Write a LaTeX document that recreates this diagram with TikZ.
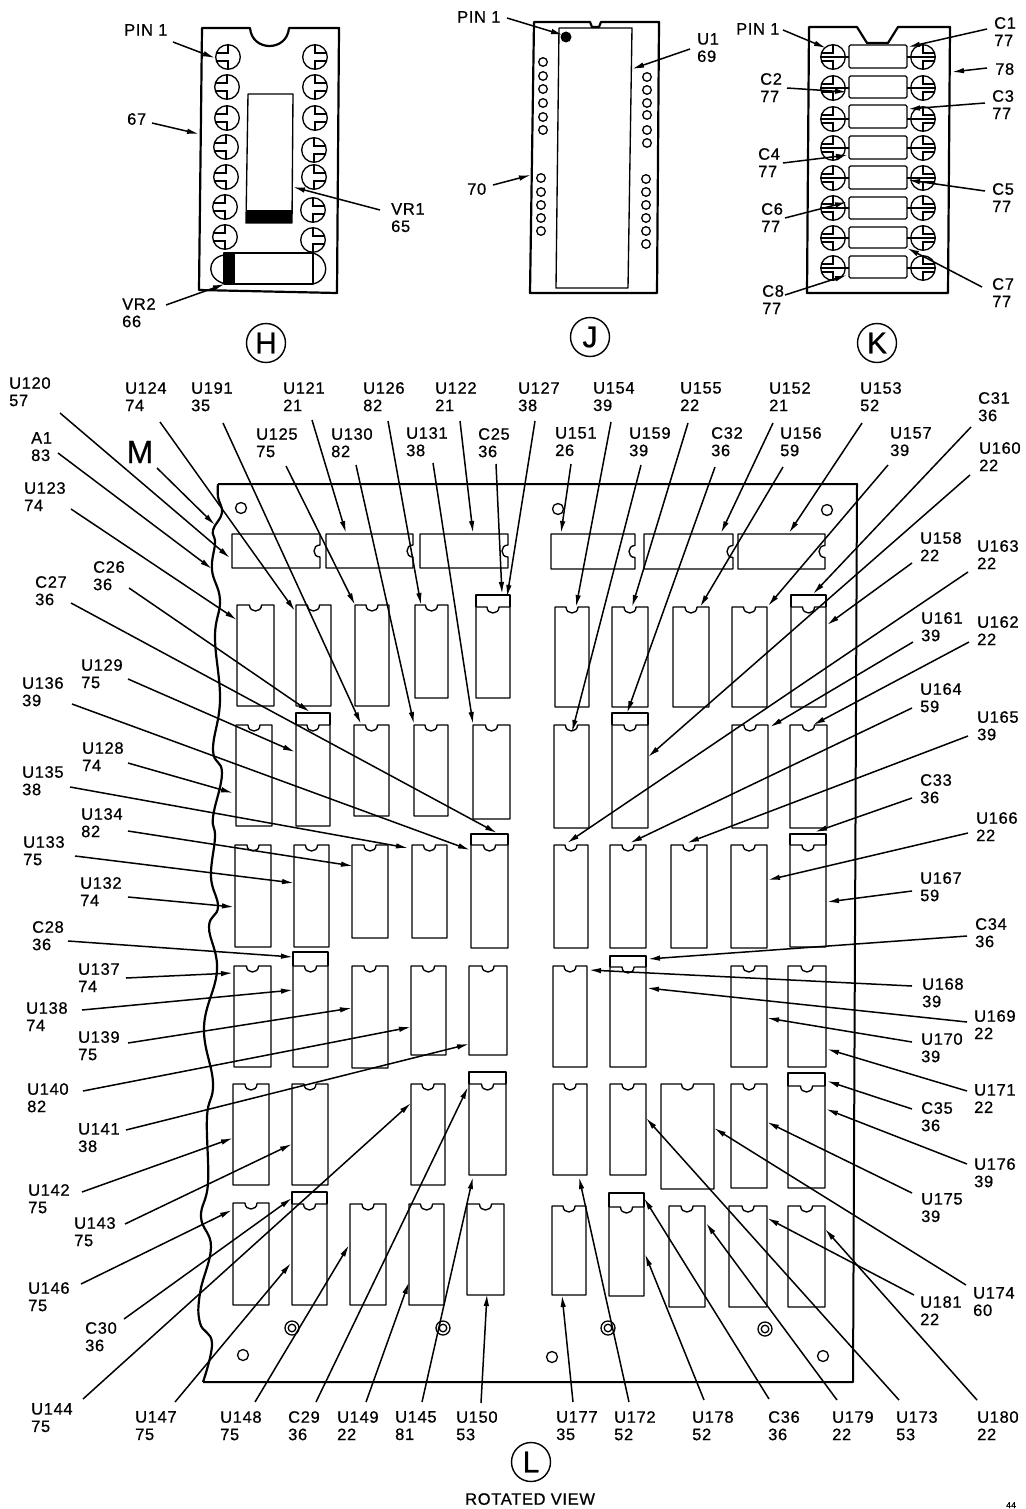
\documentclass[tikz,border=0pt]{standalone}
\usepackage{fontspec}
\setmainfont[LetterSpace=4,FakeBold=0.7]{Liberation Sans}
\usetikzlibrary{arrows.meta}
\tikzset{
  lab/.style={anchor=north west,inner sep=0pt,align=left,font=\fontsize{16.5}{17.4}\selectfont},
  lead/.style={line width=1.5pt,-{Latex[length=12pt,width=5.5pt]},shorten >=0pt},
  chipline/.style={line width=1.35pt,line join=round},
  outline/.style={line width=2.2pt,line join=round},
  circ/.style={draw,circle,line width=1.4pt,minimum size=39pt,inner sep=0pt,font=\fontsize{30}{30}\selectfont},
  hole/.style={line width=1.3pt},
}
\newcommand\dip[4]{\pgfmathsetmacro\xm{(#1+#3)/2}%
  \draw[chipline] (#1,#2) -- (\xm-6,#2) .. controls (\xm-6,#2+8) and (\xm+6,#2+8) .. (\xm+6,#2) -- (#3,#2) -- (#3,#4) -- (#1,#4) -- cycle;}
\newcommand\dipc[5]{\dip{#1}{#3}{#4}{#5}\draw[chipline] (#1,#3) -- (#1,#2) -- (#4,#2) -- (#4,#3);}
\newcommand\sidedip[4]{\pgfmathsetmacro\ym{(#2+#4)/2}%
  \draw[chipline] (#1,#2) -- (#3,#2) -- (#3,\ym-6) .. controls (#3-8,\ym-6) and (#3-8,\ym+6) .. (#3,\ym+6) -- (#3,#4) -- (#1,#4) -- cycle;}
\newcommand\padd[3]{\pgfmathsetmacro\dd{#3}%
  \draw[hole] (#1,#2) circle (12.3pt);
  \draw[hole] (#1,#2-12) -- (#1,#2-4) -- (#1+\dd*11,#2-4);
  \draw[hole] (#1,#2+12) -- (#1,#2+4) -- (#1+\dd*11,#2+4);}
\newcommand\callout[5]{\node[lab] (#1) at (#2) {#3};\coordinate (#1s) at (#4);\coordinate (#1t) at (#5);\draw[lead] (#1s) -- (#1t);}
\begin{document}
\begin{tikzpicture}[x=1pt,y=-1pt]
\useasboundingbox (0,0) rectangle (1025,1509);
\fill[white] (0,0) rectangle (1025,1509);
% ---- H
\draw[outline] (202,28) -- (250,28) .. controls (252,52) and (287,52) .. (289,28) -- (339,28) -- (337,293) -- (199,290) -- cycle;
\foreach \x/\y in {228/57,227/87,227/118,226/147,226/177,225/207,225/237}{\padd{\x}{\y}{-1}}
\foreach \x/\y in {315/57,315/87,315/118,314/150,314/177,313/210,313/240}{\padd{\x}{\y}{1}}
\draw[chipline] (248,94) -- (293,94) -- (292,223) -- (246,223) -- cycle;
\fill (246,210) rectangle (292,223);
\draw[chipline] (224,253) -- (313,253) -- (313,284) -- (224,284) -- cycle;
\fill (224,253) rectangle (235,284);
\draw[chipline] (224,255) .. controls (206,258) and (206,280) .. (226,284);
\draw[chipline] (313,253) .. controls (330,258) and (330,280) .. (313,284);
\callout{pinH}{124,24}{PIN 1}{173,42}{215,58}
\callout{n67}{127,113}{67}{152,123}{199,134}
\callout{VR1}{391,203}{VR1\\65}{380,210}{293,187}
\callout{VR2}{122,298}{VR2\\66}{166,305}{225,284}
\node[circ] (H) at (266,343) {H};
% ---- J
\draw[outline] (534,22) -- (590,22) -- (592,27) -- (599,27) -- (601,22) -- (659,22) -- (657,293) -- (530,293) -- cycle;
\draw[chipline] (559,28) -- (632,28) -- (628,288) -- (556,288) -- cycle;
\fill (566,37) circle (5.5pt);
\foreach \x/\y in {543/62,543/76,543/89,543/103,543/117,543/130,541/178,541/192,541/205,541/218,541/231,647/77,647/90,647/103,647/115,647/130,647/143,646/179,646/192,646/205,646/218,646/231,646/244}{\draw[hole] (\x,\y) circle (4.3pt);}
\callout{pinJ}{457,11}{PIN 1}{507,18}{563,35}
\callout{U1}{697,33}{U1\\69}{690,49}{632,69}
\callout{n70}{467,183}{70}{493,185}{531,175}
\node[circ] (J) at (590,337) {J};
% ---- K
\draw[outline] (809,27) -- (857,27) -- (867,43) -- (888,43) -- (898,27) -- (950,27) -- (948,293) -- (807,293) -- cycle;
\foreach \a/\b in {45/68,76/98,105/128,136/159,166/189,197/219,227/248,256/278}{\draw[chipline,rounded corners=1.5pt] (849,\a) rectangle (907,\b);}
\foreach \y in {57,88,119,148,178,208,238,268}{\padd{833}{\y}{-1}\padd{923}{\y}{1}
  \draw[hole] (821,\y) -- (849,\y) (907,\y) -- (935,\y);}
\callout{pinK}{736,23}{PIN 1}{783,30}{826,48}
\callout{C1}{994,17}{C1\\77}{987,29}{908,47}
\callout{n78}{995,63}{78}{987,68}{952,72}
\callout{C2}{760,73}{C2\\77}{787,88}{847,92}
\callout{C3}{992,90}{C3\\77}{985,103}{908,109}
\callout{C4}{758,148}{C4\\77}{783,163}{848,155}
\callout{C5}{992,183}{C5\\77}{985,191}{908,180}
\callout{C6}{761,203}{C6\\77}{785,218}{847,202}
\callout{C7}{992,278}{C7\\77}{982,287}{907,248}
\callout{C8}{762,285}{C8\\77}{785,295}{847,275}
\node[circ] (K) at (877,343) {K};
% ---- L board
\draw[line width=2pt,line join=round] (218,484) -- (857,484) -- (853,1382) -- (203,1382);
\draw[line width=2.2pt] plot[smooth,tension=0.7] coordinates {(218,484) (218,497) (222,513) (213,530) (215,543) (212,570) (220,600) (215,637) (220,700) (213,750) (222,773) (213,817) (215,837) (211,877) (218,907) (209,927) (217,970) (204,1027) (213,1083) (207,1117) (208,1183) (201,1217) (211,1247) (200,1293) (200,1323) (212,1343) (203,1382)};
\foreach \x/\y in {241/508,558/509,827/510,243/1355,552/1357,823/1356}{\draw[hole] (\x,\y) circle (5.5pt);}
\foreach \x/\y in {292/1328,443/1328,608/1328,765/1329}{\draw[hole] (\x,\y) circle (7pt) (\x,\y) circle (3.8pt);}
\sidedip{232}{534}{320}{568}\sidedip{326}{534}{413}{568}\sidedip{420}{534}{508}{568}
\sidedip{551}{534}{635}{569}\sidedip{644}{534}{733}{569}\sidedip{738}{534}{825}{569}
% row 1
\dip{237}{605}{274}{706}\dip{296}{605}{331}{706}\dip{355}{605}{389}{706}\dip{415}{605}{448}{698}
\dipc{476}{595}{607}{510}{698}
\dip{555}{607}{589}{707}\dip{612}{607}{648}{707}\dip{673}{607}{709}{707}\dip{732}{607}{767}{707}
\dipc{791}{595}{607}{826}{707}
% row 2
\dip{236}{725}{272}{826}\dipc{296}{713}{725}{330}{826}\dip{354}{725}{389}{816}\dip{414}{725}{448}{816}\dip{473}{725}{510}{819}
\dip{554}{725}{589}{828}\dipc{612}{713}{725}{648}{828}\dip{732}{725}{768}{828}\dip{790}{725}{827}{828}
% row 3
\dip{235}{845}{271}{947}\dip{294}{845}{329}{947}\dip{352}{845}{388}{938}\dip{412}{845}{447}{938}\dipc{471}{834}{845}{508}{948}
\dip{554}{845}{588}{948}\dip{610}{845}{646}{948}\dip{671}{845}{707}{948}\dip{731}{845}{767}{948}\dipc{790}{834}{845}{826}{947}
% row 4
\dip{234}{966}{271}{1067}\dipc{293}{952}{966}{328}{1067}\dip{352}{966}{388}{1068}\dip{411}{966}{446}{1055}\dip{469}{966}{507}{1055}
\dip{553}{966}{587}{1067}\dipc{610}{956}{967}{646}{1067}\dip{731}{966}{767}{1067}\dip{788}{966}{826}{1067}
% row 5
\dip{233}{1084}{269}{1185}\dip{292}{1084}{328}{1185}\dip{411}{1084}{445}{1185}\dipc{469}{1072}{1084}{506}{1175}
\dip{553}{1084}{587}{1175}\dip{610}{1084}{646}{1175}\dip{661}{1084}{714}{1189}\dip{731}{1084}{767}{1188}\dipc{788}{1073}{1086}{825}{1188}
% row 6
\dip{233}{1203}{269}{1305}\dipc{292}{1192}{1204}{327}{1305}\dip{350}{1204}{386}{1305}\dip{409}{1204}{444}{1305}\dip{467}{1204}{504}{1295}
\dip{552}{1206}{586}{1295}\dipc{609}{1193}{1207}{644}{1296}\dip{669}{1206}{705}{1307}\dip{729}{1206}{767}{1307}\dip{788}{1206}{825}{1307}
\node[font=\fontsize{32}{32}\selectfont,inner sep=0pt] (M) at (140,452) {M};
\coordinate (Ms) at (157,468);\coordinate (Mt) at (215,525);\draw[lead] (Ms) -- (Mt);
% left and top callouts
\callout{U120}{9,377}{U120\\57}{60,413}{230,558}
\callout{U124}{125,382}{U124\\74}{160,422}{295,611}
\callout{U191}{191,382}{U191\\35}{223,423}{361,724}
\callout{U121}{283,382}{U121\\21}{312,420}{346,533}
\callout{U126}{363,382}{U126\\82}{388,421}{421,605}
\callout{U122}{435,382}{U122\\21}{460,421}{473,533}
\callout{A1}{31,432}{A1\\83}{58,453}{212,569}
\callout{U123}{24,482}{U123\\74}{71,509}{237,620}
\callout{U125}{256,428}{U125\\75}{286,466}{355,605}
\callout{U130}{331,428}{U130\\82}{356,465}{414,724}
\callout{U131}{406,427}{U131\\38}{433,463}{473,724}
\callout{C25}{478,428}{C25\\36}{496,464}{502,594}
\callout{U127}{518,382}{U127\\38}{535,421}{507,597}
\callout{C26}{93,561}{C26\\36}{129,588}{310,712}
\callout{C27}{35,576}{C27\\36}{71,603}{497,833}
\callout{U129}{81,659}{U129\\75}{128,679}{295,752}
\callout{U136}{22,677}{U136\\39}{72,704}{470,850}
\callout{U128}{82,742}{U128\\74}{128,763}{233,793}
\callout{U135}{22,766}{U135\\38}{70,787}{408,848}
\callout{U134}{81,808}{U134\\82}{128,831}{353,866}
\callout{U133}{23,836}{U133\\75}{75,856}{294,883}
\callout{U132}{80,877}{U132\\74}{128,897}{234,907}
\callout{C28}{32,921}{C28\\36}{68,941}{293,957}
\callout{U137}{78,963}{U137\\74}{126,978}{233,973}
\callout{U138}{26,1002}{U138\\74}{82,1010}{293,990}
\callout{U139}{78,1031}{U139\\75}{128,1043}{352,1008}
\callout{U140}{27,1083}{U140\\82}{83,1091}{411,1027}
\callout{U141}{78,1123}{U141\\38}{126,1130}{469,1044}
\callout{U142}{28,1184}{U142\\75}{82,1192}{233,1138}
\callout{U143}{74,1217}{U143\\75}{125,1224}{292,1144}
\callout{U146}{28,1282}{U146\\75}{81,1284}{232,1210}
\callout{C30}{85,1322}{C30\\36}{124,1319}{292,1198}
\callout{U144}{31,1403}{U144\\75}{83,1399}{411,1103}
% bottom callouts
\callout{U147}{135,1411}{U147\\75}{175,1402}{291,1263}
\callout{U148}{220,1411}{U148\\75}{255,1402}{349,1245}
\callout{C29}{288,1411}{C29\\36}{316,1402}{468,1087}
\callout{U149}{337,1411}{U149\\22}{366,1402}{409,1282}
\callout{U145}{395,1411}{U145\\81}{422,1402}{473,1177}
\callout{U150}{456,1411}{U150\\53}{481,1403}{487,1294}
\callout{U177}{556,1411}{U177\\35}{573,1402}{562,1295}
\callout{U172}{614,1411}{U172\\52}{629,1402}{579,1177}
\callout{U178}{692,1411}{U178\\52}{704,1400}{645,1254}
\callout{C36}{768,1411}{C36\\36}{769,1399}{644,1198}
\callout{U179}{832,1411}{U179\\22}{837,1400}{706,1223}
\callout{U173}{896,1411}{U173\\53}{899,1400}{646,1118}
\callout{U180}{977,1411}{U180\\22}{977,1400}{825,1229}
% top right callouts
\callout{U154}{593,382}{U154\\39}{611,422}{576,607}
\callout{U155}{680,382}{U155\\22}{688,423}{632,607}
\callout{U152}{769,382}{U152\\21}{773,423}{721,533}
\callout{U153}{860,382}{U153\\52}{862,423}{789,533}
\callout{C31}{978,392}{C31\\36}{971,427}{813,594}
\callout{U151}{555,427}{U151\\26}{571,464}{561,533}
\callout{U159}{629,427}{U159\\39}{641,465}{572,732}
\callout{C32}{711,427}{C32\\36}{715,467}{627,713}
\callout{U156}{780,427}{U156\\59}{783,467}{700,607}
\callout{U157}{890,427}{U157\\39}{888,465}{768,606}
\callout{U160}{979,442}{U160\\22}{970,475}{648,757}
\callout{U158}{920,532}{U158\\22}{912,563}{827,625}
\callout{U163}{977,540}{U163\\22}{968,572}{567,843}
\callout{U161}{921,612}{U161\\39}{913,642}{770,727}
\callout{U162}{977,616}{U162\\22}{969,642}{813,725}
\callout{U164}{920,683}{U164\\59}{912,708}{630,843}
\callout{U165}{977,711}{U165\\39}{968,736}{687,843}
\callout{C33}{920,774}{C33\\36}{912,798}{815,832}
\callout{U166}{976,812}{U166\\22}{968,833}{768,880}
\callout{U167}{920,872}{U167\\59}{912,891}{827,902}
\callout{C34}{975,918}{C34\\36}{967,936}{648,959}
\callout{U168}{922,978}{U168\\39}{912,986}{589,970}
\callout{U169}{974,1010}{U169\\22}{967,1022}{647,988}
\callout{U170}{921,1033}{U170\\39}{912,1042}{767,1018}
\callout{U171}{974,1084}{U171\\22}{967,1091}{827,1049}
\callout{C35}{921,1102}{C35\\36}{912,1109}{827,1081}
\callout{U176}{974,1158}{U176\\39}{967,1164}{826,1109}
\callout{U175}{921,1193}{U175\\39}{912,1193}{767,1122}
\callout{U174}{973,1287}{U174\\60}{966,1285}{714,1128}
\callout{U181}{920,1296}{U181\\22}{914,1295}{767,1218}
\node[circ] (L) at (531,1462) {L};
\node[lab] (rot) at (465,1493) {ROTATED VIEW};
\node[lab,font=\fontsize{8.5}{9}\selectfont] (page) at (1006,1502) {44};
\end{tikzpicture}
\end{document}
